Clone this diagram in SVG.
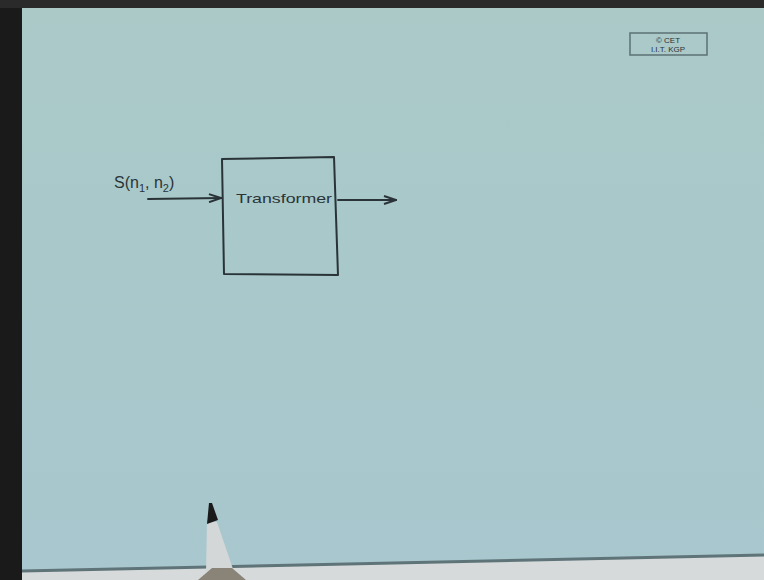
<svg xmlns="http://www.w3.org/2000/svg" width="764" height="580" viewBox="0 0 764 580">
<defs>
<style>
.ink{fill:none;stroke:#2a3438;stroke-width:2;stroke-linecap:round;stroke-linejoin:round}
.hand{font-family:"Liberation Sans",sans-serif;fill:#2a3438}
</style>
<marker id="ah" markerWidth="14" markerHeight="10" refX="13" refY="5" orient="auto" markerUnits="userSpaceOnUse">
<path d="M1,1 L13,5 L1,9" fill="none" stroke="#2a3438" stroke-width="2"/>
</marker>
<linearGradient id="bg" x1="0" y1="0" x2="0" y2="1">
<stop offset="0" stop-color="#aac9c7"/>
<stop offset="1" stop-color="#a8c7ce"/>
</linearGradient>
</defs>
<rect x="0" y="0" width="764" height="580" fill="#d6dadb"/>
<path d="M0,0 H764 V555 L20,571 H0 Z" fill="url(#bg)"/>
<rect x="0" y="0" width="22" height="580" fill="#1a1a1a"/>
<rect x="0" y="0" width="764" height="8" fill="#2a2a2a"/>
<path d="M22,571 L764,555" stroke="#5f7478" stroke-width="3" fill="none"/>
<g id="stamp">
<rect x="630" y="33" width="77" height="22" fill="none" stroke="#5d7175" stroke-width="1.5"/>
<text x="668" y="43" class="hand" font-size="8" text-anchor="middle" fill="#5d7175">© CET</text>
<text x="668" y="52" class="hand" font-size="8" text-anchor="middle" fill="#5d7175">I.I.T. KGP</text>
</g>
<g id="connectors">
<path class="ink" d="M148,199 L221,198" marker-end="url(#ah)"/>
<path class="ink" d="M338,200 L396,200" marker-end="url(#ah)"/>
</g>
<g id="transformer">
<path class="ink" d="M222,159 L334,157 L338,275 L224,274 Z"/>
<text x="236" y="203" class="hand" font-size="13" textLength="96" lengthAdjust="spacingAndGlyphs">Transformer</text>
</g>
<g id="input-label">
<text x="114" y="188" class="hand" font-size="16">S(n<tspan font-size="11" dy="4">1</tspan><tspan dy="-4">, n</tspan><tspan font-size="11" dy="4">2</tspan><tspan dy="-4">)</tspan></text>
</g>
<g id="pen">
<path d="M207,522 L217,522 L234,572 L206,572 Z" fill="#d3d7d7"/>
<path d="M209,503 L212,503 L218,520 L207,524 Z" fill="#1a1a1a"/>
<path d="M198,580 L212,568 L232,568 L246,580 Z" fill="#8a8478"/>
</g>
</svg>
